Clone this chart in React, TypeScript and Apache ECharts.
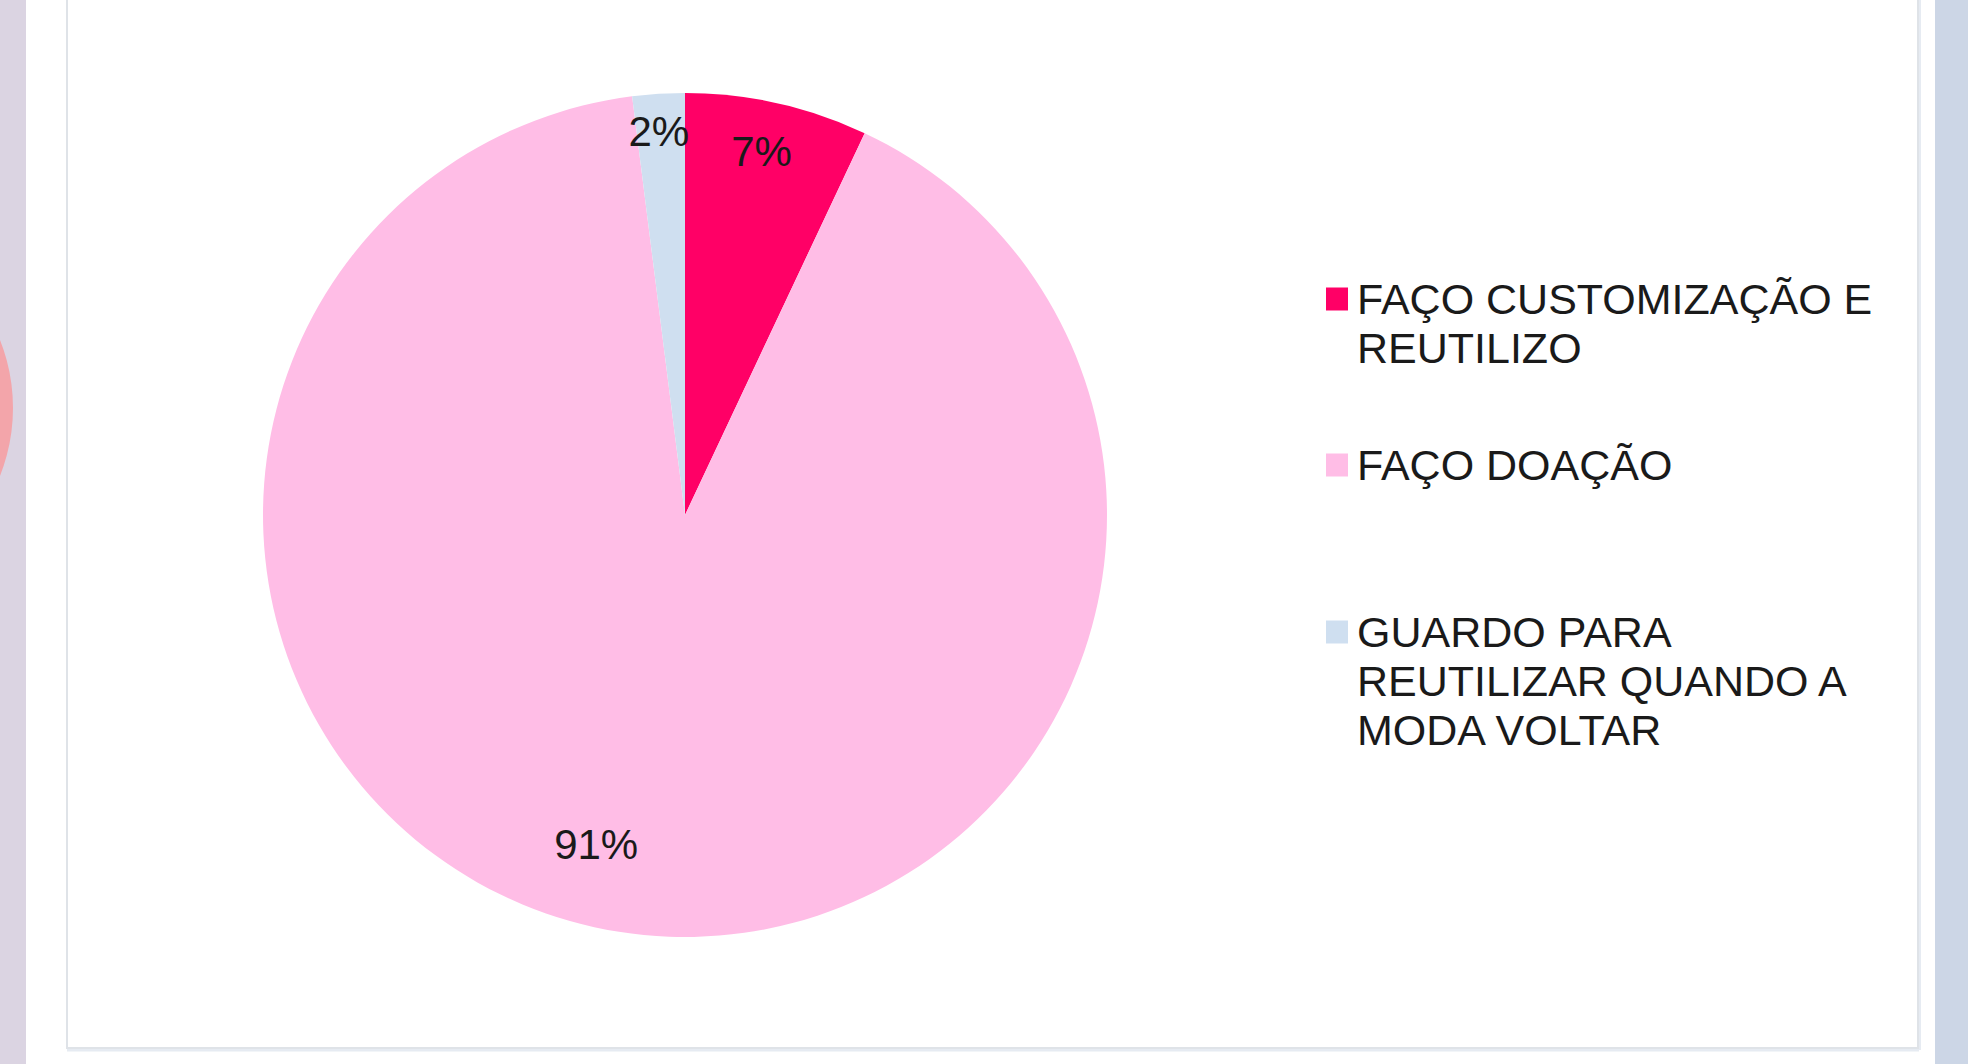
import React, { useEffect, useRef } from "react";
import * as echarts from "echarts";

// ---- data ----
const categories = [
  "FAÇO CUSTOMIZAÇÃO E REUTILIZO",
  "FAÇO DOAÇÃO",
  "GUARDO PARA REUTILIZAR QUANDO A MODA VOLTAR",
];
const values = [7, 91, 2];
const percentLabels = ["7%", "91%", "2%"];
const legendLines = [
  ["FAÇO CUSTOMIZAÇÃO E", "REUTILIZO"],
  ["FAÇO DOAÇÃO"],
  ["GUARDO PARA", "REUTILIZAR QUANDO A", "MODA VOLTAR"],
];

// ---- styles ----
const colors = ["#ff0066", "#ffbde6", "#cfdff0"];
const CX = 685;
const CY = 515;
const R = 422;
const LABEL_RADIUS = [0.88, 0.808, 0.912];
const LABEL_NUDGE_DEG = [-0.7, 6.1, -0.3];
const LEGEND_LEFT = 1326;
const LEGEND_TEXT_X = 1357;
const LEGEND_CENTERS = [299, 465, 632];
const FONT = "'Liberation Sans', Arial, sans-serif";
const LEGEND_FONT_SIZE = 43;
const LABEL_FONT_SIZE = 42;
const LINE_H = 49;
const TEXT_COLOR = "#1a1a1a";

export default function App() {
  const ref = useRef<HTMLDivElement>(null);

  useEffect(() => {
    document.body.style.margin = "0";
    const chart = echarts.init(ref.current!, undefined, { renderer: "svg" });

    const legends = categories.map((name, i) => ({
      data: [name],
      left: LEGEND_LEFT,
      top: LEGEND_CENTERS[i] - LINE_H / 2,
      padding: 0,
      orient: "vertical",
      icon: "rect",
      itemWidth: 22,
      itemHeight: 23,
      selectedMode: false,
      formatter: (nm: string) => legendLines[categories.indexOf(nm)][0],
      textStyle: {
        fontFamily: FONT,
        fontSize: LEGEND_FONT_SIZE,
        lineHeight: LINE_H,
        color: TEXT_COLOR,
        padding: [0, 0, 0, 4],
      },
    }));

    // continuation lines of the wrapped legend labels
    const legendExtra: any[] = [];
    legendLines.forEach((lines, i) => {
      lines.slice(1).forEach((t, j) => {
        legendExtra.push({
          type: "text",
          z: 10,
          x: LEGEND_TEXT_X,
          y: LEGEND_CENTERS[i] + (j + 1) * LINE_H,
          style: {
            text: t,
            fill: TEXT_COLOR,
            fontFamily: FONT,
            fontSize: LEGEND_FONT_SIZE,
            align: "left",
            verticalAlign: "middle",
          },
        });
      });
    });

    chart.setOption({
      animation: false,
      backgroundColor: "#ffffff",
      color: colors,
      graphic: [
        { type: "rect", z: -10, shape: { x: 0, y: 0, width: 26, height: 1064 }, style: { fill: "#dbd4e2" } },
        { type: "circle", z: -9, shape: { cx: -171, cy: 408, r: 184 }, style: { fill: "#f3a5aa" } },
        { type: "rect", z: -10, shape: { x: 1935, y: 0, width: 33, height: 1064 }, style: { fill: "#ccd6e6" } },
        { type: "line", z: -10, shape: { x1: 67, y1: 1050, x2: 1919, y2: 1050 }, style: { stroke: "#e6ebf2", lineWidth: 3 } },
        { type: "line", z: -10, shape: { x1: 1920, y1: 0, x2: 1920, y2: 1050 }, style: { stroke: "#e6ebf2", lineWidth: 2 } },
        {
          type: "rect",
          z: -8,
          shape: { x: 67, y: -10, width: 1851, height: 1058 },
          style: { fill: "#ffffff", stroke: "#dfe3e8", lineWidth: 2 },
        },
        ...legendExtra,
      ],
      legend: legends,
      series: [
        {
          type: "pie",
          center: [CX, CY],
          radius: R,
          startAngle: 90,
          clockwise: true,
          silent: true,
          itemStyle: { borderWidth: 0 },
          label: {
            show: true,
            position: "inside",
            fontFamily: FONT,
            fontSize: LABEL_FONT_SIZE,
            color: TEXT_COLOR,
            formatter: (p: any) => percentLabels[p.dataIndex],
          },
          labelLine: { show: false },
          labelLayout: (params: any) => {
            const i = params.dataIndex;
            const rc = params.labelRect;
            const lx = rc.x + rc.width / 2;
            const ly = rc.y + rc.height / 2;
            const a = Math.atan2(lx - CX, -(ly - CY)) + (LABEL_NUDGE_DEG[i] * Math.PI) / 180;
            const d = LABEL_RADIUS[i] * R;
            return {
              x: CX + d * Math.sin(a),
              y: CY - d * Math.cos(a),
              align: "center",
              verticalAlign: "middle",
            };
          },
          data: categories.map((name, i) => ({ name, value: values[i] })),
        },
      ],
    });

    return () => chart.dispose();
  }, []);

  return <div ref={ref} style={{ width: 1968, height: 1064 }} />;
}
